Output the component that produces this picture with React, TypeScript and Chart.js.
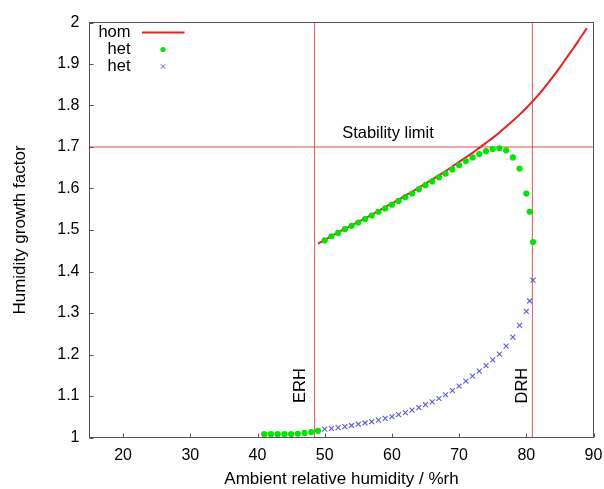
import React, { useEffect, useRef } from 'react';
import { Chart, registerables } from 'chart.js';

Chart.register(...registerables);

// ---- data ----
const homRH = [49, 50, 51, 52, 53, 54, 55, 56, 57, 58, 59, 60, 61, 62, 63, 64, 65, 66, 67, 68, 69, 70, 71, 72, 73, 74, 75, 76, 77, 78, 79, 80, 81, 82, 83, 84, 85, 86, 87, 88, 89];
const homGF = [1.467, 1.476, 1.485, 1.494, 1.503, 1.511, 1.520, 1.528, 1.537, 1.546, 1.555, 1.564, 1.573, 1.583, 1.592, 1.602, 1.612, 1.622, 1.632, 1.642, 1.653, 1.664, 1.675, 1.686, 1.698, 1.710, 1.722, 1.735, 1.749, 1.763, 1.778, 1.794, 1.811, 1.829, 1.849, 1.870, 1.892, 1.915, 1.938, 1.962, 1.986];

const hetDotRH = [41, 42, 43, 44, 45, 46, 47, 48, 49, 50, 51, 52, 53, 54, 55, 56, 57, 58, 59, 60, 61, 62, 63, 64, 65, 66, 67, 68, 69, 70, 71, 72, 73, 74, 75, 76, 77, 78, 79, 80, 80.5, 81];
const hetDotGF = [1.008, 1.008, 1.008, 1.008, 1.008, 1.009, 1.011, 1.013, 1.016, 1.475, 1.485, 1.493, 1.502, 1.510, 1.518, 1.526, 1.535, 1.544, 1.552, 1.561, 1.570, 1.579, 1.588, 1.598, 1.608, 1.617, 1.627, 1.636, 1.646, 1.656, 1.666, 1.675, 1.683, 1.690, 1.695, 1.697, 1.692, 1.675, 1.648, 1.588, 1.544, 1.471];

const hetCrossRH = [50, 51, 52, 53, 54, 55, 56, 57, 58, 59, 60, 61, 62, 63, 64, 65, 66, 67, 68, 69, 70, 71, 72, 73, 74, 75, 76, 77, 78, 79, 80, 80.5, 81];
const hetCrossGF = [1.020, 1.022, 1.024, 1.026, 1.029, 1.032, 1.035, 1.038, 1.042, 1.046, 1.050, 1.055, 1.060, 1.066, 1.072, 1.079, 1.086, 1.094, 1.103, 1.113, 1.124, 1.136, 1.148, 1.160, 1.173, 1.187, 1.201, 1.220, 1.242, 1.270, 1.304, 1.329, 1.379];

const xTicks = [20, 30, 40, 50, 60, 70, 80, 90];
const yTicks = [1, 1.1, 1.2, 1.3, 1.4, 1.5, 1.6, 1.7, 1.8, 1.9, 2];
const xMin = 15;
const xMax = 90;
const yMin = 1;
const yMax = 2;
const ERH = 48.5;
const DRH = 80.9;
const STABILITY = 1.7;

const seriesLabels = ['hom', 'het', 'het'];
const xTitle = 'Ambient relative humidity / %rh';
const yTitle = 'Humidity growth factor';
const stabilityText = 'Stability limit';
const stabilityTextPos = { x: 52.6, y: 1.733 };
const erhText = 'ERH';
const erhTextPos = { x: 46.45, y: 1.125 };
const drhText = 'DRH';
const drhTextPos = { x: 79.45, y: 1.125 };

const FONT = '"Liberation Sans", Arial, sans-serif';
const RED = '#e82020';
const GREEN = '#00e600';
const BLUE = '#5a5ae0';
const REF = 'rgba(210, 60, 60, 0.85)';
const REF_H = 'rgba(215, 90, 90, 0.7)';

const decorPlugin = {
  id: 'decor',
  afterDatasetsDraw(chart: any) {
    const { ctx, chartArea: a, scales } = chart;
    const xs = scales.x;
    const ys = scales.y;
    ctx.save();
    // frame
    ctx.strokeStyle = '#555555';
    ctx.lineWidth = 1;
    ctx.strokeRect(a.left, a.top, a.right - a.left, a.bottom - a.top);
    // inward tick marks
    ctx.beginPath();
    xTicks.forEach((v) => {
      const px = Math.round(xs.getPixelForValue(v)) + 0.5;
      ctx.moveTo(px, a.bottom);
      ctx.lineTo(px, a.bottom - 4);
    });
    yTicks.forEach((v) => {
      const py = Math.round(ys.getPixelForValue(v)) + 0.5;
      ctx.moveTo(a.left, py);
      ctx.lineTo(a.left + 4, py);
    });
    ctx.stroke();

    // annotations
    ctx.fillStyle = '#000';
    ctx.font = `16.5px ${FONT}`;
    ctx.textBaseline = 'middle';
    ctx.textAlign = 'left';
    ctx.fillText(stabilityText, xs.getPixelForValue(stabilityTextPos.x), ys.getPixelForValue(stabilityTextPos.y));
    [[erhText, erhTextPos], [drhText, drhTextPos]].forEach(([t, p]: any) => {
      ctx.save();
      ctx.translate(xs.getPixelForValue(p.x), ys.getPixelForValue(p.y));
      ctx.rotate(-Math.PI / 2);
      ctx.textAlign = 'center';
      ctx.fillText(t, 0, 0);
      ctx.restore();
    });

    // legend
    const textRight = a.left + 41;
    const sampleX = a.left + 73.5;
    const rows = [a.top + 10, a.top + 27, a.top + 44];
    ctx.textAlign = 'right';
    seriesLabels.forEach((lab, i) => {
      ctx.fillStyle = '#000';
      ctx.fillText(lab, textRight, rows[i]);
    });
    ctx.strokeStyle = RED;
    ctx.lineWidth = 2;
    ctx.beginPath();
    ctx.moveTo(a.left + 52.5, rows[0]);
    ctx.lineTo(a.left + 95, rows[0]);
    ctx.stroke();
    ctx.fillStyle = GREEN;
    ctx.beginPath();
    ctx.arc(sampleX, rows[1], 2.6, 0, Math.PI * 2);
    ctx.fill();
    ctx.strokeStyle = BLUE;
    ctx.lineWidth = 1;
    const d = 2.2;
    ctx.beginPath();
    ctx.moveTo(sampleX - d, rows[2] - d);
    ctx.lineTo(sampleX + d, rows[2] + d);
    ctx.moveTo(sampleX - d, rows[2] + d);
    ctx.lineTo(sampleX + d, rows[2] - d);
    ctx.stroke();
    ctx.restore();
  },
};

export default function App() {
  const ref = useRef<HTMLCanvasElement | null>(null);

  useEffect(() => {
    if (!ref.current) return;
    const chart = new Chart(ref.current, {
      type: 'scatter',
      data: {
        datasets: [
          {
            label: seriesLabels[0],
            data: homRH.map((x, i) => ({ x, y: homGF[i] })),
            showLine: true,
            borderColor: RED,
            backgroundColor: RED,
            borderWidth: 2,
            pointRadius: 0,
            cubicInterpolationMode: 'monotone',
            order: 2,
          },
          {
            label: seriesLabels[1],
            data: hetDotRH.map((x, i) => ({ x, y: hetDotGF[i] })),
            showLine: false,
            pointStyle: 'circle',
            pointRadius: 3.1,
            backgroundColor: GREEN,
            borderColor: GREEN,
            borderWidth: 0,
            order: 1,
          },
          {
            label: seriesLabels[2],
            data: hetCrossRH.map((x, i) => ({ x, y: hetCrossGF[i] })),
            showLine: false,
            pointStyle: 'crossRot',
            pointRadius: 3.5,
            borderColor: BLUE,
            backgroundColor: BLUE,
            borderWidth: 1.1,
            order: 1,
          },
          {
            label: 'ERH',
            data: [{ x: ERH, y: yMin }, { x: ERH, y: yMax }],
            showLine: true,
            borderColor: REF,
            borderWidth: 1,
            pointRadius: 0,
            order: 5,
          },
          {
            label: 'DRH',
            data: [{ x: DRH, y: yMin }, { x: DRH, y: yMax }],
            showLine: true,
            borderColor: REF,
            borderWidth: 1,
            pointRadius: 0,
            order: 5,
          },
          {
            label: 'Stability limit',
            data: [{ x: xMin, y: STABILITY }, { x: xMax, y: STABILITY }],
            showLine: true,
            borderColor: REF_H,
            borderWidth: 1.5,
            pointRadius: 0,
            order: 5,
          },
        ],
      },
      options: {
        responsive: false,
        animation: false,
        events: [],
        layout: { padding: { top: 22.5, right: 10.5, left: 0, bottom: 0 } },
        plugins: {
          legend: { display: false },
          tooltip: { enabled: false },
        },
        scales: {
          x: {
            type: 'linear',
            min: xMin,
            max: xMax,
            afterBuildTicks: (s: any) => {
              s.ticks = xTicks.map((v) => ({ value: v }));
            },
            afterFit: (s: any) => {
              s.height = 51.5;
              s.paddingLeft = 0;
              s.paddingRight = 0;
            },
            grid: { display: false, drawTicks: false },
            border: { display: false },
            ticks: {
              color: '#000',
              padding: 8.5,
              maxRotation: 0,
              autoSkip: false,
              font: { family: FONT, size: 16 },
              callback: (v: any) => String(v),
            },
            title: {
              display: true,
              text: xTitle,
              color: '#000',
              font: { family: FONT, size: 17, lineHeight: 1.1 },
              padding: { top: 0, bottom: 0 },
            },
          },
          y: {
            type: 'linear',
            min: yMin,
            max: yMax,
            afterBuildTicks: (s: any) => {
              s.ticks = yTicks.map((v) => ({ value: v }));
            },
            afterFit: (s: any) => {
              s.width = 89.5;
              s.paddingTop = 0;
              s.paddingBottom = 0;
            },
            grid: { display: false, drawTicks: false },
            border: { display: false },
            ticks: {
              color: '#000',
              padding: 10,
              autoSkip: false,
              font: { family: FONT, size: 16 },
              callback: (v: any) => String(v),
            },
            title: {
              display: true,
              text: yTitle,
              color: '#000',
              font: { family: FONT, size: 17, lineHeight: 1.2 },
              padding: { top: 10, bottom: 0 },
            },
          },
        },
      },
      plugins: [decorPlugin],
    } as any);
    return () => chart.destroy();
  }, []);

  return (
    <div style={{ position: 'fixed', left: 0, top: 0, width: 604, height: 489, background: '#fff' }}>
      <canvas ref={ref} width={604} height={489} style={{ width: 604, height: 489, display: 'block' }} />
    </div>
  );
}
